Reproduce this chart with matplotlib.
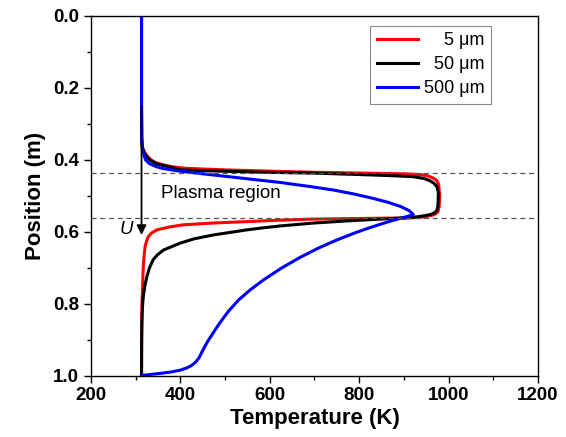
import matplotlib
matplotlib.use("Agg")
import matplotlib.pyplot as plt
from matplotlib.ticker import MultipleLocator, FormatStrFormatter

plt.rcParams['font.family'] = ['Liberation Sans', 'DejaVu Sans']

# Temperature profiles along the reactor (position in m, temperature in K)
pos_5um = [0.0, 0.25, 0.34, 0.36, 0.37, 0.38, 0.39, 0.40, 0.408, 0.414, 0.419,
           0.4235, 0.428, 0.4315, 0.4346, 0.4375, 0.439, 0.441, 0.444, 0.451,
           0.458, 0.47, 0.50, 0.53, 0.545, 0.551, 0.554, 0.556, 0.558, 0.5595,
           0.5608, 0.5618, 0.5625, 0.5637, 0.565, 0.568, 0.572, 0.576, 0.581,
           0.587, 0.595, 0.604, 0.614, 0.627, 0.641, 0.67, 0.697, 0.73, 0.771,
           0.80, 0.85, 1.0]
temp_5um = [313, 313, 313.5, 314.5, 316, 320, 326, 334, 345, 362, 380,
            410, 500, 600, 697, 830, 900, 935, 952, 966,
            974, 978, 980, 979, 976, 970, 964, 957, 948, 940,
            928, 905, 846, 770, 697, 620, 548, 470, 405,
            375, 347, 335, 328, 324, 321, 318.5, 317, 316, 315,
            314, 313.5, 313]

pos_50um = [0.0, 0.25, 0.34, 0.36, 0.37, 0.38, 0.39, 0.40, 0.41, 0.416, 0.422,
            0.428, 0.432, 0.435, 0.437, 0.441, 0.444, 0.447, 0.452, 0.458,
            0.465, 0.475, 0.49, 0.50, 0.53, 0.540, 0.545, 0.549, 0.5525,
            0.5555, 0.558, 0.5607, 0.563, 0.565, 0.570, 0.576, 0.584, 0.590,
            0.595, 0.609, 0.620, 0.632, 0.651, 0.665, 0.678, 0.70, 0.725, 0.75,
            0.78, 0.81, 0.845, 0.9, 1.0]
temp_50um = [313, 313, 313.5, 314.5, 316, 319, 324, 331, 345, 362, 385,
             399, 500, 600, 697, 800, 870, 921, 945, 958,
             967, 974, 977, 977, 976, 974, 971, 966, 958,
             946, 933, 915, 880, 846, 772, 697, 623, 580,
             548, 474, 430, 399, 362, 348, 339, 331, 325, 320.5,
             317, 315, 314, 313.3, 313]

pos_500um = [0.0, 0.25, 0.35, 0.37, 0.385, 0.400, 0.410, 0.419, 0.424, 0.431,
             0.437, 0.450, 0.463, 0.474, 0.484, 0.495, 0.507, 0.518, 0.530,
             0.541, 0.548, 0.553, 0.5625, 0.572, 0.581, 0.592, 0.604, 0.624,
             0.646, 0.672, 0.702, 0.734, 0.762, 0.790, 0.822, 0.854, 0.882,
             0.905, 0.930, 0.950, 0.963, 0.972, 0.979, 0.985, 0.990, 0.994,
             0.997, 1.0]
temp_500um = [313, 313, 313.5, 315, 318, 322, 330, 346, 360, 395,
              436, 530, 623, 688, 742, 788, 830, 864, 893,
              911, 918, 921, 893, 866, 843, 816, 789, 748,
              708, 667, 625, 586, 556, 530, 507, 488, 473,
              461, 450, 442, 434, 425, 414, 400, 380, 356,
              333, 313]

series_labels = ['\u2007\u20075 \u03bcm', '\u200750 \u03bcm', '500 \u03bcm']
series_colors = ['#ff0000', '#000000', '#0000ff']

plasma_bounds = [0.4375, 0.5625]
arrow_temp = 313
arrow_start, arrow_end = 0.25, 0.609

fig = plt.figure(figsize=(5.66, 4.37), dpi=100)
ax = fig.add_axes([0.1608, 0.1407, 0.7897, 0.8227])

for p, t, lab, c in zip([pos_5um, pos_50um, pos_500um],
                        [temp_5um, temp_50um, temp_500um],
                        series_labels, series_colors):
    ax.plot(t, p, color=c, lw=2.2, label=lab, zorder=2,
            solid_joinstyle='round')

for b in plasma_bounds:
    ax.axhline(b, color='#555555', lw=0.9, ls=(0, (4, 3)), zorder=3)

ax.annotate('', xy=(arrow_temp, arrow_end), xytext=(arrow_temp, arrow_start),
            arrowprops=dict(arrowstyle='-|>', color='black', lw=1.3,
                            mutation_scale=14, shrinkA=0, shrinkB=0),
            zorder=4)
ax.text(280, 0.593, 'U', fontsize=13.5, style='italic', ha='center', va='center')
ax.text(491, 0.4935, 'Plasma region', fontsize=13.5, ha='center', va='center')

ax.set_xlim(200, 1200)
ax.set_ylim(1.0, 0.0)
ax.xaxis.set_major_locator(MultipleLocator(200))
ax.xaxis.set_minor_locator(MultipleLocator(100))
ax.yaxis.set_major_locator(MultipleLocator(0.2))
ax.yaxis.set_minor_locator(MultipleLocator(0.1))
ax.yaxis.set_major_formatter(FormatStrFormatter('%.1f'))

ax.tick_params(which='both', direction='out', top=False, right=False,
               width=1.0, labelsize=13.5)
ax.tick_params(which='major', length=5)
ax.tick_params(which='minor', length=3)
for lbl in ax.get_xticklabels() + ax.get_yticklabels():
    lbl.set_fontweight('bold')
for s in ax.spines.values():
    s.set_linewidth(1.0)

ax.set_xlabel('Temperature (K)', fontsize=16, fontweight='bold', labelpad=3)
ax.set_ylabel('Position (m)', fontsize=16, fontweight='bold', labelpad=5)

leg = ax.legend(loc='upper right', bbox_to_anchor=(0.894, 0.973),
                fontsize=13, handlelength=2.3, handletextpad=0.3,
                labelspacing=0.4, borderpad=0.35, fancybox=False,
                framealpha=1, edgecolor='#888888', borderaxespad=0)
leg.get_frame().set_linewidth(0.8)
for line in leg.get_lines():
    line.set_linewidth(2.2)

fig.savefig('out.png', dpi=100)
